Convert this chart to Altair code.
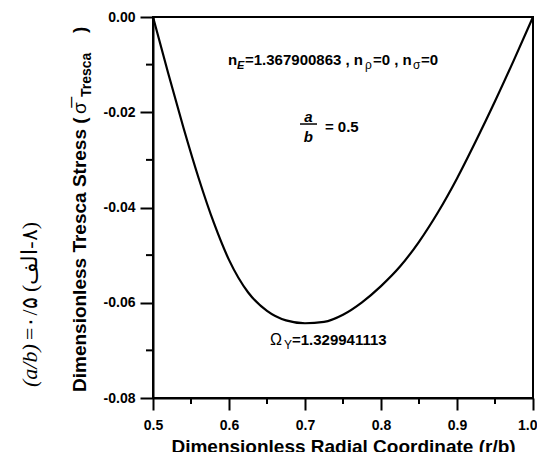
import altair as alt
import pandas as pd

# ---- data ----
r_over_b = [0.50, 0.52, 0.54, 0.56, 0.58, 0.60, 0.625, 0.65, 0.675, 0.70, 0.725,
            0.75, 0.775, 0.80, 0.825, 0.85, 0.875, 0.90, 0.925, 0.95, 0.975, 1.00]
tresca = [0.0, -0.0118, -0.0232, -0.0338, -0.0432, -0.0510, -0.0578, -0.0617,
          -0.0637, -0.0643, -0.0640, -0.0625, -0.0599, -0.0565, -0.0524, -0.0472,
          -0.0410, -0.0339, -0.0260, -0.0177, -0.0090, 0.0]
x_major = [0.5, 0.6, 0.7, 0.8, 0.9, 1.0]
x_minor = [0.55, 0.65, 0.75, 0.85, 0.95]
y_major = [-0.08, -0.06, -0.04, -0.02, 0.0]
y_minor = [-0.07, -0.05, -0.03, -0.01]

FONT = "Liberation Sans"
SERIF = "Liberation Serif"
W, H = 380, 381

curve = pd.DataFrame({"r": r_over_b, "s": tresca})
xs = alt.Scale(domain=[0.5, 1.0], nice=False, zero=False)
ys = alt.Scale(domain=[-0.08, 0.0], nice=False, zero=False)

one = pd.DataFrame({"k": [0]})

line = alt.Chart(curve).mark_line(color="black", strokeWidth=2.2, interpolate="monotone").encode(
    x=alt.X("r:Q", scale=xs, axis=alt.Axis(
        values=x_major, format=".1f", title="Dimensionless Radial Coordinate (r/b)",
        titleFontSize=19, titleFontWeight="bold", titleFont=FONT, titlePadding=5,
        labelFontSize=14, labelFontWeight="bold", labelFont=FONT, labelPadding=8,
        labelAlign={"condition": {"test": "datum.value == 1", "value": "right"}, "value": "center"},
        labelOffset={"condition": {"test": "datum.value == 1", "value": 4}, "value": 0},
        tickSize=12, tickWidth=2, tickColor="black", domainColor="black", domainWidth=2,
        labelColor="black", titleColor="black", grid=False, labelFlush=False)),
    y=alt.Y("s:Q", scale=ys, axis=alt.Axis(
        values=y_major, title=None,
        labelExpr="datum.value == 0 ? '0.00' : '-' + format(-datum.value, '.2f')",
        labelFontSize=14, labelFontWeight="bold", labelFont=FONT, labelPadding=5,
        tickSize=13, tickWidth=2, tickColor="black", domainColor="black", domainWidth=2,
        labelColor="black", grid=False, labelFlush=False)),
)

xminor = alt.Chart(pd.DataFrame({"v": x_minor})).mark_rule(color="black", strokeWidth=2).encode(
    x=alt.X("v:Q", scale=xs), y=alt.value(H), y2=alt.value(H + 6))
yminor = alt.Chart(pd.DataFrame({"v": y_minor})).mark_rule(color="black", strokeWidth=2).encode(
    y=alt.Y("v:Q", scale=ys), x=alt.value(-7), x2=alt.value(0))


def dtext(s, x, y, size=15, dx=0, dy=0, weight="bold", style="normal", font=FONT, align="left"):
    return alt.Chart(one).mark_text(text=s, fontSize=size, fontWeight=weight, fontStyle=style,
                                     font=font, align=align, baseline="alphabetic", dx=dx, dy=dy,
                                     color="black").encode(
        x=alt.X(datum=x, scale=xs), y=alt.Y(datum=y, scale=ys))


def ptext(s, x, y, size=15, weight="bold", style="normal", font=FONT, angle=0, align="left"):
    return alt.Chart(one).mark_text(text=s, fontSize=size, fontWeight=weight, fontStyle=style,
                                     font=font, align=align, baseline="alphabetic", angle=angle,
                                     color="black").encode(x=alt.value(x), y=alt.value(y))


# annotation: n_E line
ax, ay = 0.5987, -0.0101
ann = [
    dtext("n", ax, ay, dx=0),
    dtext("E", ax, ay, size=11, dx=9, dy=4, style="italic"),
    dtext("=1.367900863 , n", ax, ay, dx=17),
    dtext("ρ", ax, ay, size=12, dx=137, dy=4, weight="normal"),
    dtext("=0 , n", ax, ay, dx=145),
    dtext("σ", ax, ay, size=12, dx=185, dy=4, weight="normal"),
    dtext("=0", ax, ay, dx=193),
]
# fraction a/b = 0.5
fx = 0.7045
ann += [
    dtext("a", fx, -0.0221, size=15, style="italic", align="center"),
    dtext("b", fx, -0.0262, size=15, style="italic", align="center"),
    dtext("= 0.5", 0.7262, -0.0241, size=15),
]
frac = alt.Chart(one).mark_rule(color="black", strokeWidth=1.5).encode(
    x=alt.X(datum=0.6934, scale=xs), x2=alt.X2(datum=0.7158), y=alt.Y(datum=-0.02247, scale=ys))
# Omega_Y
ox, oy = 0.6539, -0.0689
ann += [
    dtext("Ω", ox, oy, size=16, weight="normal"),
    dtext("Y", ox, oy, size=12, dx=14, dy=4, weight="normal"),
    dtext("=1.329941113", ox, oy, dx=22),
]

# y-axis title pieces (rotated)
ytitle = [
    ptext("Dimensionless Tresca Stress (", -67, 375, size=19, angle=270),
    ptext("σ\u0305", -67, 97, size=19, angle=270, weight="normal"),
    ptext("Tresca", -62, 80, size=14, angle=270),
    ptext(")", -67, 16, size=19, angle=270),
]
# Persian caption on the far left
cap = [
    ptext("(a/b)", -116, 370, size=22, angle=270, weight="normal", style="italic", font=SERIF),
    ptext("=۰/۵ (الف\u200E-۸)", -116, 323, size=22, angle=270, weight="normal", font=SERIF),
]

chart = alt.layer(line, xminor, yminor, frac, *ann, *ytitle, *cap).properties(
    width=W, height=H,
    autosize=alt.AutoSizeParams(type="none"),
    padding={"left": 145, "top": 9, "right": 4, "bottom": 54},
).configure_view(stroke="black", strokeWidth=2)

chart.save("out.html", embed_options={"renderer": "svg", "actions": False})
